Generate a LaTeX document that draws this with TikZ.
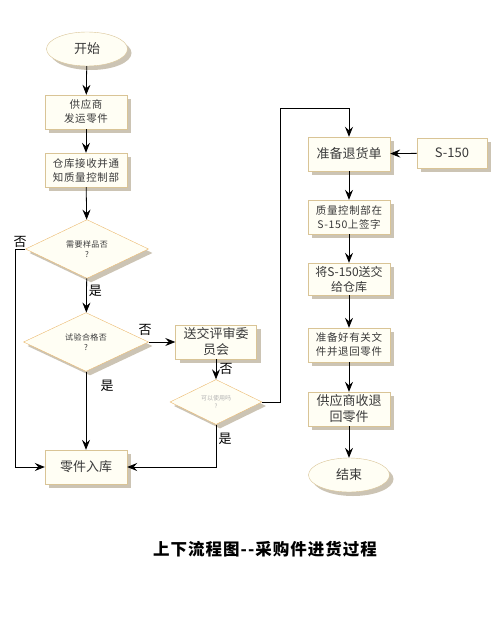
\documentclass[tikz,border=0pt]{standalone}
\usepackage{fontspec}
\newfontfamily\cjk{Noto Sans CJK SC}
\newfontfamily\cjkwide[LetterSpace=6]{Noto Sans CJK SC}
\usepackage{tikz}
\usetikzlibrary{shapes.geometric}
\usetikzlibrary{arrows.meta}
\usetikzlibrary{shadows}
\usetikzlibrary{positioning}
\definecolor{boxfill}{HTML}{FFFEF4}
\definecolor{boxline}{HTML}{D9C496}
\definecolor{dialine}{HTML}{EBB96E}
\definecolor{shade}{HTML}{CCC4B4}
\definecolor{txt}{HTML}{3A3A3A}

\begin{document}
\begin{tikzpicture}[x=1pt,y=-1pt,
  every node/.style={font=\cjk,text=txt},
  proc/.style={rectangle,draw=boxline,fill=boxfill,minimum width=82pt,minimum height=34pt,inner sep=1pt,align=center,
    drop shadow={shadow xshift=4pt,shadow yshift=-4pt,fill=shade,opacity=1}},
  term/.style={ellipse,draw=boxline,fill=boxfill,minimum width=81pt,minimum height=34pt,inner sep=0pt,font=\cjk\fontsize{13}{15}\selectfont,
    drop shadow={shadow xshift=4pt,shadow yshift=-4pt,fill=shade,opacity=1}},
  ask/.style={diamond,draw=dialine,fill=boxfill,inner sep=0pt,align=center,
    drop shadow={shadow xshift=4pt,shadow yshift=-4pt,fill=shade,opacity=1}},
  small/.style={font=\cjkwide\fontsize{10.5}{14}\selectfont},
  big/.style={font=\cjk\fontsize{13}{16}\selectfont},
  yesno/.style={font=\cjk\fontsize{13}{15}\selectfont,text=black,inner sep=0pt},
  line/.style={draw,black,line width=0.8pt},
  go/.style={line,-{Stealth[length=10pt,width=8pt,inset=3.5pt]}}]
\useasboundingbox (0,0) rectangle (500,618);
% left column
\node (start) [term] at (87,49) {开始};
\node (supply) [proc,small] at (86,112) {供应商\\发运零件};
\node (recv) [proc,small] at (86,170) {仓库接收并通\\知质量控制部};
\node (needsample) [ask,minimum width=123pt,minimum height=57pt,font=\cjkwide\fontsize{8}{10}\selectfont] at (87,249) {需要样品否\\?};
\node (testok) [ask,minimum width=125pt,minimum height=57pt,font=\cjkwide\fontsize{8}{10}\selectfont] at (86,342) {试验合格否\\?};
\node (review) [proc,big,minimum width=81pt] at (216,342) {送交评审委\\员会};
\node (usable) [ask,minimum width=92pt,minimum height=45pt,font=\cjk\fontsize{6}{7.5}\selectfont,text=gray!60] at (216,402) {可以使用吗\\?};
\node (store) [proc,big] at (86,467) {零件入库};
% right column
\node (retform) [proc,big] at (349,154) {准备退货单};
\node (sform) [proc,big,minimum width=70pt,minimum height=30pt] at (452,153) {S-150};
\node (sign) [proc,small] at (349,217) {质量控制部在\\S-150上签字};
\node (handover) [proc,big,minimum height=32pt,font=\cjk\fontsize{12}{15}\selectfont] at (349,279) {将S-150送交\\给仓库};
\node (prepare) [proc,small] at (349,345) {准备好有关文\\件并退回零件};
\node (takeback) [proc,big] at (349,409) {供应商收退\\回零件};
\node (stop) [term] at (349,475) {结束};
% corners
\coordinate (lefttop) at (15,249);
\coordinate (leftbot) at (15,467);
\coordinate (usebot) at (216,467);
\coordinate (riseb) at (280,402);
\coordinate (riset) at (280,108);
\coordinate (retin) at (349,108);
% arrows
\draw[go] (start) -- (supply);
\draw[go] (supply) -- (recv);
\draw[go] (recv) -- (needsample);
\draw[go] (needsample) -- (testok) node[yesno,pos=0.35,right=2pt] {是};
\draw[go] (needsample.west) -- (lefttop) -- (leftbot) -- (store.west);
\node (noA) [yesno] at (20,242) {否};
\draw[go] (testok.east) -- (review.west);
\node (noB) [yesno] at (145,330) {否};
\draw[go] (testok) -- (store);
\node (yesB) [yesno] at (107,386) {是};
\draw[go] (review) -- (usable);
\node (noC) [yesno] at (226,369) {否};
\draw[go] (usable.south) -- (usebot) -- (store.east);
\node (yesC) [yesno] at (225,439) {是};
\draw[go] (usable.east) -- (riseb) -- (riset) -- (retin) -- (retform.north);
\draw[go] (sform) -- (retform);
\draw[go] (retform) -- (sign);
\draw[go] (sign) -- (handover);
\draw[go] (handover) -- (prepare);
\draw[go] (prepare) -- (takeback);
\draw[go] (takeback) -- (stop);
% title
\node (title) [font=\cjkwide\bfseries\fontsize{16.5}{18}\selectfont,text=black] at (265,549) {上下流程图--采购件进货过程};
\end{tikzpicture}
\end{document}
